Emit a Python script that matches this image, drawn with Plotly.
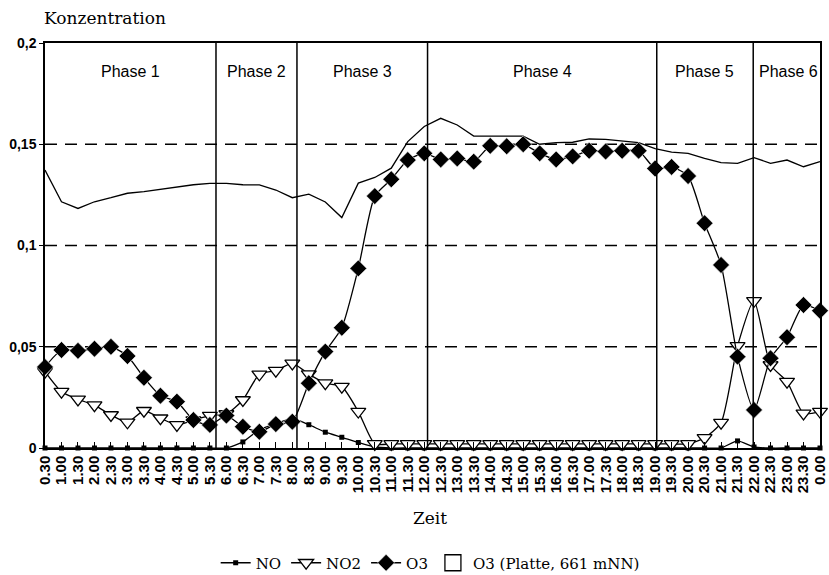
import plotly.graph_objects as go

times = ["0.30", "1.00", "1.30", "2.00", "2.30", "3.00", "3.30", "4.00", "4.30", "5.00",
         "5.30", "6.00", "6.30", "7.00", "7.30", "8.00", "8.30", "9.00", "9.30", "10.00",
         "10.30", "11.00", "11.30", "12.00", "12.30", "13.00", "13.30", "14.00", "14.30", "15.00",
         "15.30", "16.00", "16.30", "17.00", "17.30", "18.00", "18.30", "19.00", "19.30", "20.00",
         "20.30", "21.00", "21.30", "22.00", "22.30", "23.00", "23.30", "0.00"]

no_vals = [0, 0, 0, 0, 0, 0, 0, 0, 0, 0,
           0, 0, 0.003, 0.009, 0.012, 0.0145, 0.0115, 0.0078, 0.0053, 0.0027,
           0.0005, 0, 0, 0, 0, 0, 0, 0, 0, 0,
           0, 0, 0, 0, 0, 0, 0, 0, 0, 0,
           0, 0, 0.0035, 0.0005, 0, 0, 0, 0]

no2_vals = [0.0377, 0.0278, 0.024, 0.0212, 0.0163, 0.0127, 0.0184, 0.0147, 0.0114, 0.0138,
            0.016, 0.0168, 0.0237, 0.0364, 0.0382, 0.0418, 0.0365, 0.032, 0.0303, 0.018,
            0.002, 0.002, 0.002, 0.002, 0.002, 0.002, 0.002, 0.002, 0.002, 0.002,
            0.002, 0.002, 0.002, 0.002, 0.002, 0.002, 0.002, 0.002, 0.002, 0.002,
            0.005, 0.0125, 0.0504, 0.0727, 0.041, 0.0328, 0.0171, 0.018]

o3_vals = [0.040, 0.0484, 0.048, 0.049, 0.050, 0.0454, 0.0347, 0.0258, 0.0229, 0.0138,
           0.0114, 0.016, 0.0105, 0.008, 0.0118, 0.013, 0.032, 0.0476, 0.0594, 0.0887,
           0.1244, 0.1327, 0.1422, 0.1455, 0.1425, 0.143, 0.1414, 0.1492, 0.149, 0.150,
           0.1455, 0.1425, 0.144, 0.1468, 0.1464, 0.1468, 0.1468, 0.138, 0.1388, 0.1343,
           0.111, 0.0904, 0.0451, 0.0188, 0.0443, 0.0547, 0.0706, 0.0678]

platte_vals = [0.1373, 0.1216, 0.1183, 0.1216, 0.1236, 0.1258, 0.1266, 0.1277, 0.129, 0.130,
               0.1307, 0.1307, 0.130, 0.1299, 0.1274, 0.1236, 0.1254, 0.1215, 0.1138, 0.1308,
               0.1336, 0.1382, 0.1513, 0.1588, 0.1628, 0.1595, 0.154, 0.154, 0.154, 0.154,
               0.150, 0.1508, 0.151, 0.1526, 0.1524, 0.1516, 0.1508, 0.1478, 0.1461, 0.1455,
               0.143, 0.1409, 0.1406, 0.1434, 0.1406, 0.1422, 0.1389, 0.1414]

phase_names = ["Phase 1", "Phase 2", "Phase 3", "Phase 4", "Phase 5", "Phase 6"]
phase_bounds = [0, 10.37, 15.28, 23.2, 37.1, 42.95, 47]

y_tickvals = [0, 0.05, 0.1, 0.15, 0.2]
y_ticktext = ["0", "0,05", "0,1", "0,15", "0,2"]
grid_levels = [0.05, 0.1, 0.15]

fig = go.Figure()

fig.add_trace(go.Scatter(
    x=times, y=platte_vals, mode="lines", name="O3 (Platte, 661 mNN)",
    line=dict(color="black", width=1.3), showlegend=False, cliponaxis=False))

fig.add_trace(go.Scatter(
    x=times, y=no_vals, mode="lines+markers", name="NO",
    line=dict(color="black", width=1.3, shape="spline", smoothing=0.6),
    marker=dict(symbol="square", size=5, color="black"), cliponaxis=False))

fig.add_trace(go.Scatter(
    x=times, y=no2_vals, mode="lines+markers", name="NO2",
    line=dict(color="black", width=1.3, shape="spline", smoothing=0.6),
    marker=dict(symbol="triangle-down", size=13, color="white",
                line=dict(color="black", width=1.3)), cliponaxis=False))

fig.add_trace(go.Scatter(
    x=times, y=o3_vals, mode="lines+markers", name="O3",
    line=dict(color="black", width=1.3, shape="spline", smoothing=0.6),
    marker=dict(symbol="diamond", size=13, color="black",
                line=dict(color="white", width=0.6)), cliponaxis=False))

fig.add_trace(go.Scatter(
    x=[None], y=[None], mode="markers", name="O3 (Platte, 661 mNN)",
    marker=dict(symbol="square-open", size=16, color="black", line=dict(width=1.3))))

shapes = []
for b in phase_bounds[1:-1]:
    shapes.append(dict(type="line", xref="x", yref="paper", x0=b, x1=b, y0=0, y1=1,
                       line=dict(color="black", width=1.5)))
for g in grid_levels:
    shapes.append(dict(type="line", xref="paper", yref="y", x0=0, x1=1, y0=g, y1=g,
                       line=dict(color="black", width=1.5, dash="12px,8px"), layer="below"))

annotations = []
for i, name in enumerate(phase_names):
    cx = (phase_bounds[i] + phase_bounds[i + 1]) / 2
    anchor = "center"
    if i == len(phase_names) - 1:
        cx = phase_bounds[i] + 0.2
        anchor = "left"
    annotations.append(dict(x=cx, y=0.186, xref="x", yref="y", text=name, showarrow=False,
                            xanchor=anchor, yanchor="middle",
                            font=dict(family="Liberation Sans, Arial", size=16, color="black")))

annotations.append(dict(x=-0.004, y=1.062, xref="paper", yref="paper", text="Konzentration",
                        showarrow=False, xanchor="left", yanchor="middle",
                        font=dict(family="DejaVu Serif", size=17, color="black")))
annotations.append(dict(x=0.497, y=-0.173, xref="paper", yref="paper", text="Zeit",
                        showarrow=False, xanchor="center", yanchor="middle",
                        font=dict(family="DejaVu Serif", size=17, color="black")))

fig.update_layout(
    width=829, height=575,
    margin=dict(l=45, r=9, t=43, b=127, autoexpand=False),
    paper_bgcolor="white", plot_bgcolor="white",
    shapes=shapes, annotations=annotations,
    showlegend=True,
    legend=dict(orientation="h", x=0.497, xanchor="center", y=-0.284, yanchor="middle",
                font=dict(family="DejaVu Serif", size=15, color="black"),
                itemwidth=30, tracegroupgap=0, bgcolor="rgba(0,0,0,0)"),
    xaxis=dict(type="category", range=[0, 47], tickangle=-90,
               tickmode="array", tickvals=times, ticktext=times, automargin=False,
               tickfont=dict(family="Liberation Sans, Arial", size=15, color="black", weight="bold"),
               showline=True, linecolor="black", linewidth=1.5, mirror=True,
               ticks="inside", ticklen=6, tickcolor="black", showgrid=False, zeroline=False),
    yaxis=dict(range=[0, 0.2], tickvals=y_tickvals, ticktext=y_ticktext, automargin=False,
               tickfont=dict(family="Liberation Sans, Arial", size=14, color="black", weight="bold"),
               showline=True, linecolor="black", linewidth=1.5, mirror=True,
               ticks="outside", ticklen=4, tickcolor="black", showgrid=False, zeroline=False),
)

fig.write_html("out.html", config={"displayModeBar": False},
               post_script="document.body.style.margin='0';")
